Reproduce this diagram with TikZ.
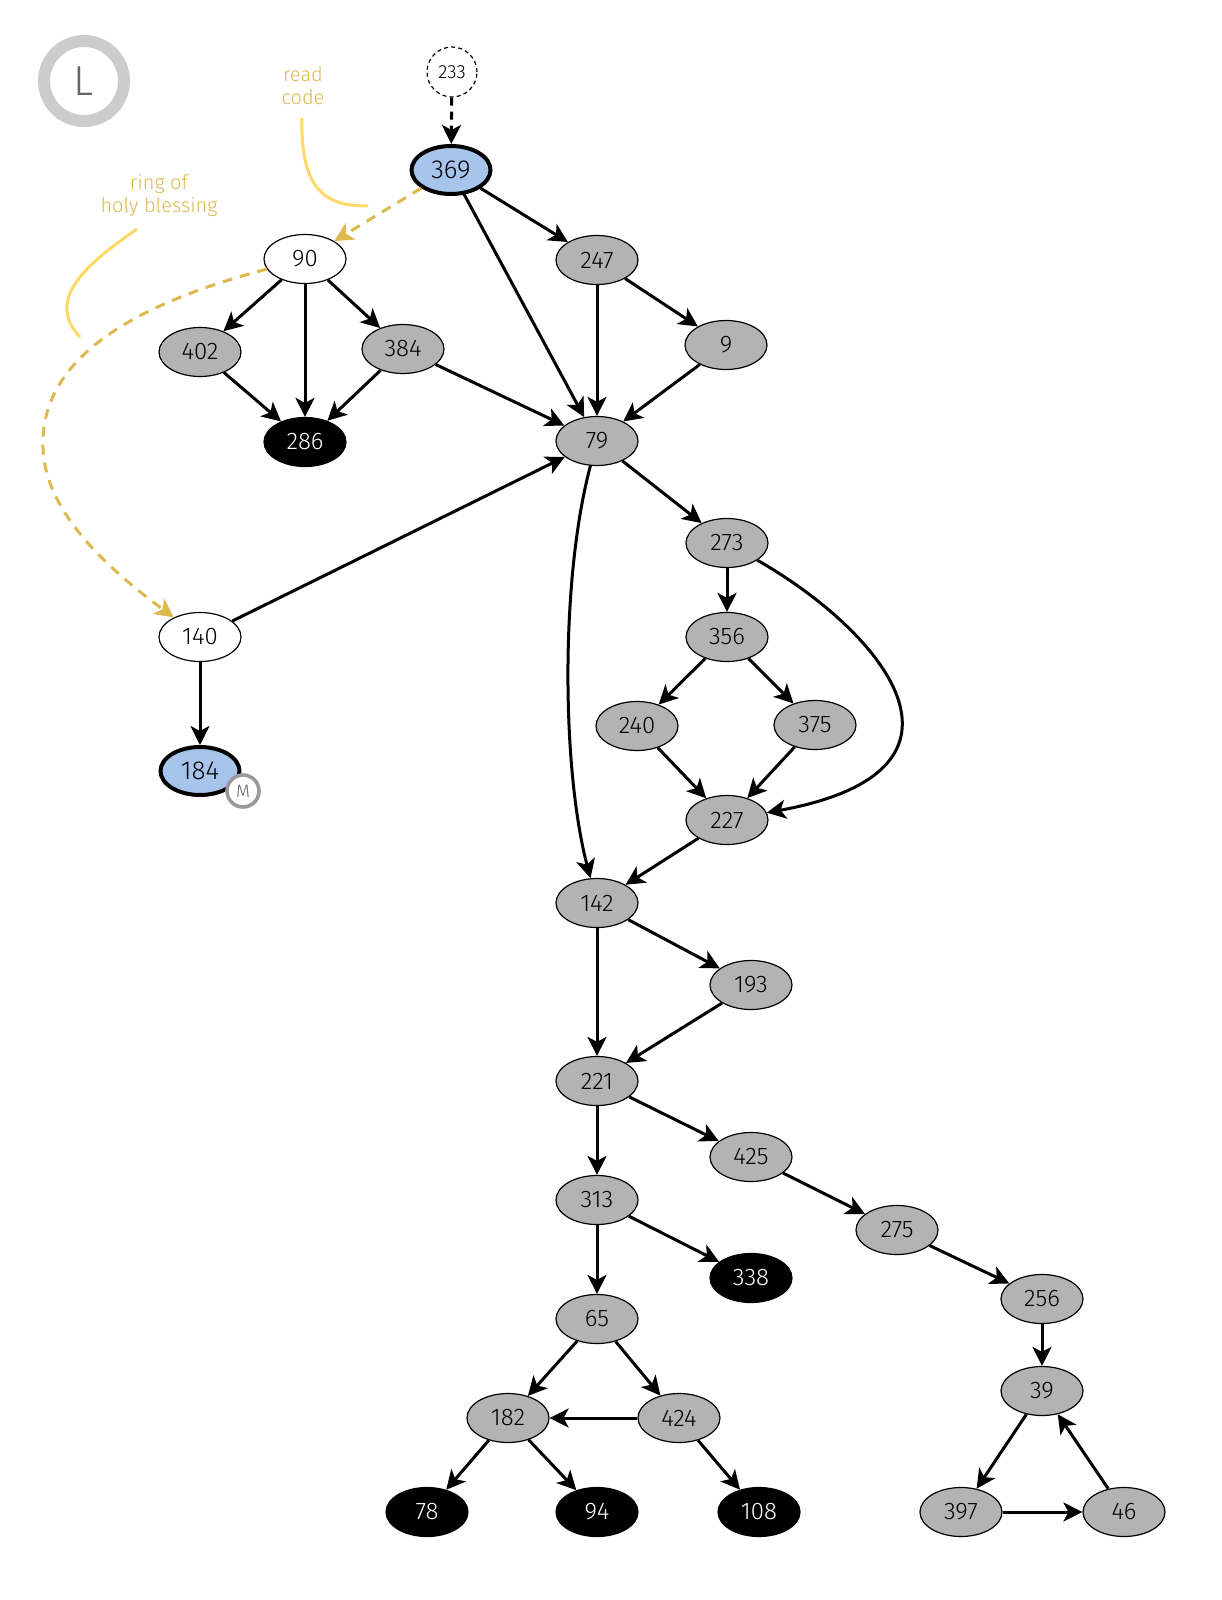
\documentclass[tikz,border=0pt]{standalone}
\usepackage{fontspec}
\setmainfont{Fira Sans Light}
\usetikzlibrary{arrows.meta,shapes.geometric}
\definecolor{nblue}{HTML}{A7C5EC}
\definecolor{ngray}{HTML}{B3B3B3}
\definecolor{gold}{HTML}{DEB94F}
\definecolor{yel}{HTML}{FFD966}
\definecolor{lring}{HTML}{CCCCCC}
\definecolor{mring}{HTML}{999999}
\definecolor{dtext}{HTML}{666666}
\begin{document}
\begin{tikzpicture}[x=0.5pt,y=-0.5pt,
  nd/.style={ellipse,draw=black,line width=0.6pt,minimum width=41pt,minimum height=24.5pt,inner sep=0pt,font=\fontsize{12}{14}\selectfont},
  gr/.style={nd,fill=ngray},
  bk/.style={nd,fill=black,text=white},
  wh/.style={nd,fill=white},
  bl/.style={nd,fill=nblue,line width=2pt,minimum width=39.5pt,minimum height=24pt,font=\fontsize{13}{15}\selectfont},
  dsh/.style={circle,draw=black,line width=0.6pt,dash pattern=on 2pt off 1.6pt,minimum size=25pt,inner sep=0pt,font=\fontsize{9.5}{11}\selectfont},
  edge/.style={line width=1.5pt,-{Stealth[length=9.5pt,width=9.5pt,inset=2.5pt]}},
  dedge/.style={edge,dash pattern=on 4pt off 3pt},
  gedge/.style={line width=1.5pt,draw=gold,dash pattern=on 5pt off 4pt,-{Stealth[length=9.5pt,width=9.5pt,inset=2.5pt,fill=gold,sep=0pt]}},
  ann/.style={text=gold,align=center,font=\fontsize{10}{11.5}\selectfont},
  lead/.style={draw=yel,line width=1.5pt}
]
\useasboundingbox[fill=white] (0,0) rectangle (1221,1600);

% badge L
\node[circle,draw=lring,line width=6pt,minimum size=40pt,inner sep=0pt,text=dtext,font=\fontsize{21}{21}\selectfont] (lbadge) at (84,81) {L};

% annotations
\node[ann] (readcode) at (303,86) {read\\code};
\node[ann] (ring) at (159,196) {ring of\\holy blessing};
\coordinate (rc1) at (302,118);
\coordinate (rc2) at (368,206);
\coordinate (rb1) at (137,229);
\coordinate (rb2) at (80,337);
\draw[lead] (rc1) .. controls (300,195) and (330,206) .. (rc2);
\draw[lead] (rb1) .. controls (85,265) and (45,300) .. (rb2);

% nodes
\node[dsh] (n233) at (452,72) {233};
\node[bl] (n369) at (451,170) {369};
\node[wh] (n90) at (305,259) {90};
\node[gr] (n247) at (597,260) {247};
\node[gr] (n402) at (200,352) {402};
\node[gr] (n384) at (403,349) {384};
\node[gr] (n9) at (726,345) {9};
\node[bk] (n286) at (305,442) {286};
\node[gr] (n79) at (597,441) {79};
\node[gr] (n273) at (727,543) {273};
\node[wh] (n140) at (200,637) {140};
\node[gr] (n356) at (727,637) {356};
\node[gr] (n240) at (637,726) {240};
\node[gr] (n375) at (815,725) {375};
\node[bl] (n184) at (200,771) {184};
\node[gr] (n227) at (727,820) {227};
\node[gr] (n142) at (597,903) {142};
\node[gr] (n193) at (751,985) {193};
\node[gr] (n221) at (597,1081) {221};
\node[gr] (n425) at (751,1157) {425};
\node[gr] (n313) at (597,1200) {313};
\node[gr] (n275) at (897,1230) {275};
\node[bk] (n338) at (751,1278) {338};
\node[gr] (n256) at (1042,1299) {256};
\node[gr] (n65) at (597,1319) {65};
\node[gr] (n39) at (1042,1391) {39};
\node[gr] (n182) at (508,1418) {182};
\node[gr] (n424) at (679,1418) {424};
\node[bk] (n78) at (427,1512) {78};
\node[bk] (n94) at (597,1512) {94};
\node[bk] (n108) at (759,1512) {108};
\node[gr] (n397) at (961,1512) {397};
\node[gr] (n46) at (1124,1512) {46};

% M badge
\node[circle,draw=mring,line width=1.8pt,fill=white,minimum size=16pt,inner sep=0pt,text=dtext,font=\fontsize{9}{9}\selectfont] (mbadge) at (243,791) {M};

% edges
\draw[dedge] (n233) -- (n369);
\draw[gedge] (n369) -- (n90);
\draw[gedge] (n90) .. controls (150,300) and (45,350) .. (43,440) .. controls (40,510) and (110,570) .. (n140);
\draw[edge] (n369) -- (n247);
\draw[edge] (n369) -- (n79);
\draw[edge] (n90) -- (n402);
\draw[edge] (n90) -- (n286);
\draw[edge] (n90) -- (n384);
\draw[edge] (n402) -- (n286);
\draw[edge] (n384) -- (n286);
\draw[edge] (n384) -- (n79);
\draw[edge] (n247) -- (n79);
\draw[edge] (n247) -- (n9);
\draw[edge] (n9) -- (n79);
\draw[edge] (n79) -- (n273);
\draw[edge] (n79) .. controls (560,580) and (562,770) .. (n142);
\draw[edge] (n140) -- (n79);
\draw[edge] (n140) -- (n184);
\draw[edge] (n273) -- (n356);
\draw[edge] (n273) .. controls (880,630) and (1000,770) .. (n227);
\draw[edge] (n356) -- (n240);
\draw[edge] (n356) -- (n375);
\draw[edge] (n240) -- (n227);
\draw[edge] (n375) -- (n227);
\draw[edge] (n227) -- (n142);
\draw[edge] (n142) -- (n221);
\draw[edge] (n142) -- (n193);
\draw[edge] (n193) -- (n221);
\draw[edge] (n221) -- (n313);
\draw[edge] (n221) -- (n425);
\draw[edge] (n425) -- (n275);
\draw[edge] (n275) -- (n256);
\draw[edge] (n256) -- (n39);
\draw[edge] (n39) -- (n397);
\draw[edge] (n397) -- (n46);
\draw[edge] (n46) -- (n39);
\draw[edge] (n313) -- (n65);
\draw[edge] (n313) -- (n338);
\draw[edge] (n65) -- (n182);
\draw[edge] (n65) -- (n424);
\draw[edge] (n424) -- (n182);
\draw[edge] (n182) -- (n78);
\draw[edge] (n182) -- (n94);
\draw[edge] (n424) -- (n108);
\end{tikzpicture}
\end{document}
